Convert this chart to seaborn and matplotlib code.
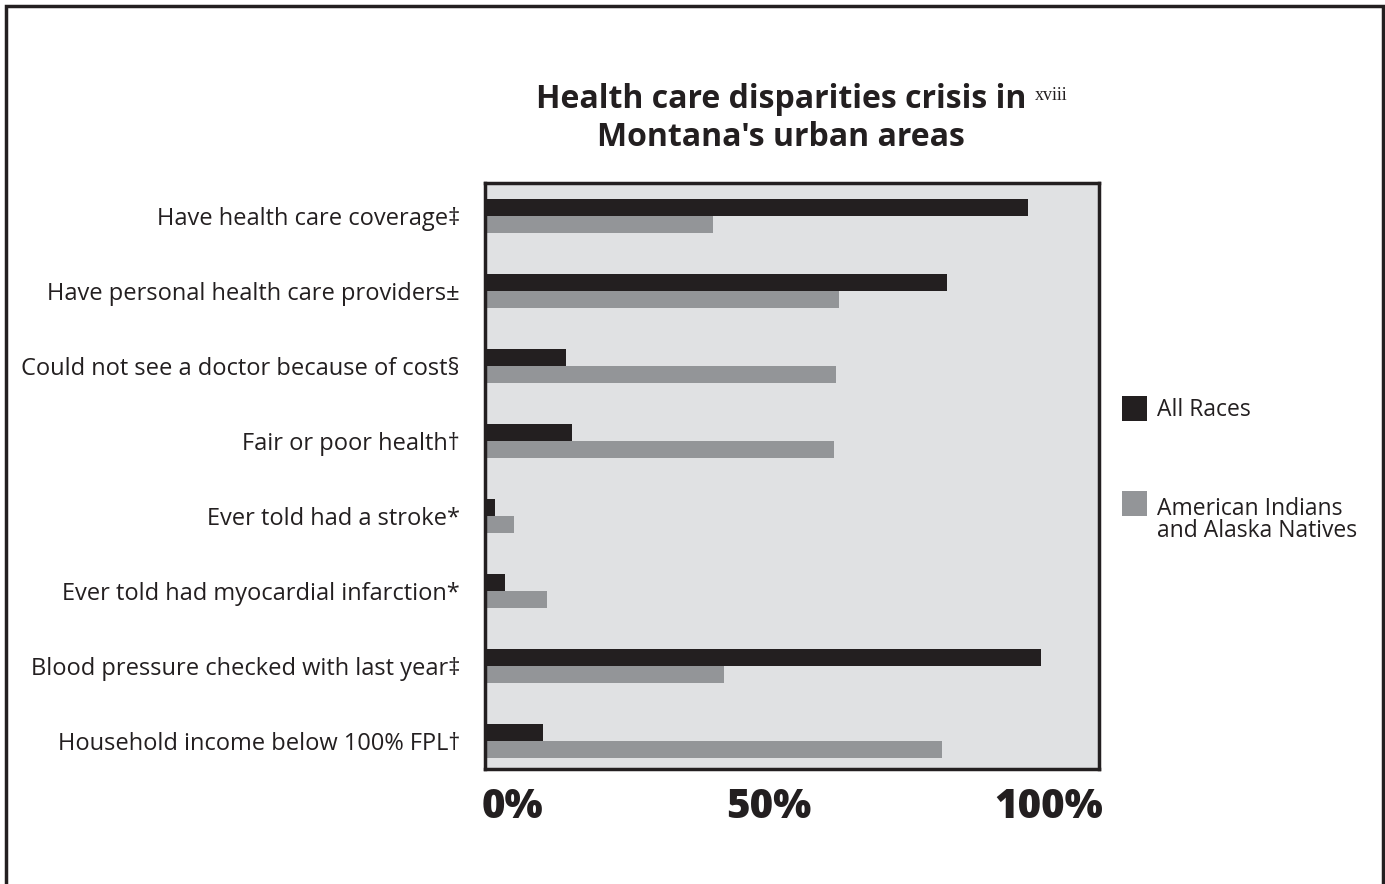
import matplotlib
matplotlib.use("Agg")
import matplotlib.pyplot as plt
import matplotlib.transforms as mtransforms
from matplotlib.patches import Rectangle
import pandas as pd
import seaborn as sns

categories = [
    "Have health care coverage\u2021",
    "Have personal health care providers\u00b1",
    "Could not see a doctor because of cost\u00a7",
    "Fair or poor health\u2020",
    "Ever told had a stroke*",
    "Ever told had myocardial infarction*",
    "Blood pressure checked with last year\u2021",
    "Household income below 100% FPL\u2020",
]
all_races = [88.5, 75.3, 13.2, 14.1, 1.6, 3.3, 90.6, 9.4]
aian = [37.1, 57.6, 57.1, 56.9, 4.7, 10.1, 39.0, 74.5]
series_names = ["All Races", "American Indians and Alaska Natives"]
tick_values = [0, 50, 100]
tick_labels = ["0%", "50%", "100%"]

DARK = "#231f20"
GREY = "#939598"
PANEL = "#e0e1e3"

df = pd.DataFrame({
    "category": categories * 2,
    "value": all_races + aian,
    "group": [series_names[0]] * len(categories) + [series_names[1]] * len(categories),
})

sns.set_theme(style="white")
plt.rcParams["font.family"] = ["Open Sans", "DejaVu Sans"]

W, H = 1385, 884
fig = plt.figure(figsize=(W / 100, H / 100), dpi=100)
fig.patch.set_facecolor("white")

# outer frame (open at the bottom)
fig.add_artist(Rectangle((6 / W, -0.05), (1383 - 6) / W, 1.05 - 6 / H,
                         transform=fig.transFigure, fill=False,
                         edgecolor=DARK, linewidth=2.5))

ax = fig.add_axes([485 / W, 1 - 769 / H, (1099 - 485) / W, (769 - 183) / H])
ax.set_facecolor(PANEL)

sns.barplot(data=df, y="category", x="value", hue="group", orient="h",
            palette=[DARK, GREY], width=0.453, gap=0, dodge=True,
            saturation=1, legend=False, linewidth=0, ax=ax)

ax.set_xlim(0, 100)
ax.set_ylim(len(categories) - 0.63, -0.44)
ax.set_xlabel("")
ax.set_ylabel("")
for s in ax.spines.values():
    s.set_color(DARK)
    s.set_linewidth(2.5)

ax.tick_params(axis="y", length=0, pad=18, labelsize=17, labelcolor=DARK)
ax.tick_params(axis="x", length=0, pad=13, labelsize=29, labelcolor=DARK)
ax.set_xticks(tick_values)
ax.set_xticklabels(tick_labels, fontweight=800)


def shift(label, dx_px):
    label.set_transform(label.get_transform() +
                        mtransforms.ScaledTranslation(dx_px / 100, 0, fig.dpi_scale_trans))


xl = ax.get_xticklabels()
xl[0].set_horizontalalignment("left")
shift(xl[0], -3)
shift(xl[1], -23)
xl[2].set_horizontalalignment("right")
shift(xl[2], 4)

# title
fig.text(781 / W, 1 - 100 / H, "Health care disparities crisis in",
         ha="center", va="center", fontsize=23, fontweight="bold", color=DARK)
fig.text(781 / W, 1 - 138 / H, "Montana's urban areas",
         ha="center", va="center", fontsize=23, fontweight="bold", color=DARK)
fig.text(1035 / W, 1 - 95 / H, "xviii", ha="left", va="center",
         fontsize=13, family="Liberation Serif", color=DARK)

# legend
for color, ytop in [(DARK, 396), (GREY, 491)]:
    fig.add_artist(Rectangle((1122 / W, 1 - (ytop + 25) / H), 25 / W, 25 / H,
                             transform=fig.transFigure, facecolor=color,
                             edgecolor="none"))
fig.text(1157 / W, 1 - 410 / H, series_names[0], ha="left", va="center",
         fontsize=16.5, color=DARK)
fig.text(1157 / W, 1 - 509 / H, "American Indians", ha="left", va="center",
         fontsize=16.5, color=DARK)
fig.text(1157 / W, 1 - 531 / H, "and Alaska Natives", ha="left", va="center",
         fontsize=16.5, color=DARK)

fig.savefig("out.png", dpi=100)
